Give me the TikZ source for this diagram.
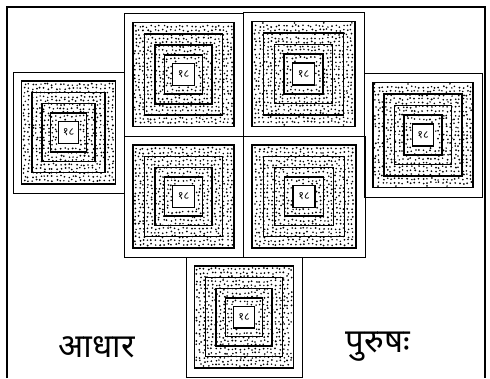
\documentclass[tikz,border=0pt]{standalone}
\usepackage{fontspec}
\newfontfamily\deva[Script=Devanagari]{Noto Sans}
\tikzset{
  frameline/.style={line width=1.1pt},
  boxline/.style={draw, line width=0.9pt, inner sep=0pt},
  sqline/.style={line width=1.4pt},
  numlabel/.style={font=\deva\fontsize{11}{11}\selectfont, inner sep=0pt},
  biglabel/.style={font=\deva\fontsize{33}{33}\selectfont, inner sep=0pt},
}
\begin{document}
\begin{tikzpicture}[x=1pt,y=-1pt]
\useasboundingbox (0,0) rectangle (490,378);
\pgfmathsetseed{7}
% outer frame (open at the bottom)
\draw[frameline] (7,378) -- (7,7) -- (485,7) -- (485,378);
\foreach \nm/\cx/\cy/\hw/\hh in {
  TL/183.5/74.5/59.5/61.5,
  TR/303.5/74/60.5/62,
  ML/183.5/196.5/59.5/60.5,
  MR/304/196.5/61/60.5,
  L/68.5/132.5/55.5/60.5,
  R/423/135/59/62,
  B/244/317/58/60}{
  \node[boxline, minimum width=2*\hw, minimum height=2*\hh] (\nm) at (\cx,\cy) {};
  \begin{scope}[shift={(\cx,\cy)}]
    \pgfmathsetmacro\ax{0.85*\hw}
    \pgfmathsetmacro\ay{0.85*\hh}
    \pgfmathsetmacro\bx{0.18*\hw}
    \pgfmathsetmacro\by{0.18*\hh}
    % stipple
    \foreach \i in {-13,...,13}{
      \foreach \j in {-13,...,13}{
        \pgfmathsetmacro\px{\i*4.0+(rnd-0.5)*2.2}
        \pgfmathsetmacro\py{\j*4.0+(rnd-0.5)*2.2}
        \pgfmathtruncatemacro\ok{and(and(abs(\px)<\ax-1.5, abs(\py)<\ay-1.5), not(and(abs(\px)<\bx+1.5, abs(\py)<\by+1.5)))}
        \ifnum\ok=1 \fill (\px,\py) circle[radius=0.8+0.25*rnd]; \fi
      }
    }
    % concentric squares
    \foreach \f in {0.85,0.66,0.48,0.32,0.18}{
      \draw[sqline] (-\f*\hw,-\f*\hh) rectangle (\f*\hw,\f*\hh);
    }
  \end{scope}
  \node[numlabel] (\nm-n) at (\cx,\cy) {१८};
}
\node[biglabel] (adhar) at (97,347) {आधार};
\node[biglabel] (purush) at (378,347) {पुरुषः};
\end{tikzpicture}
\end{document}
